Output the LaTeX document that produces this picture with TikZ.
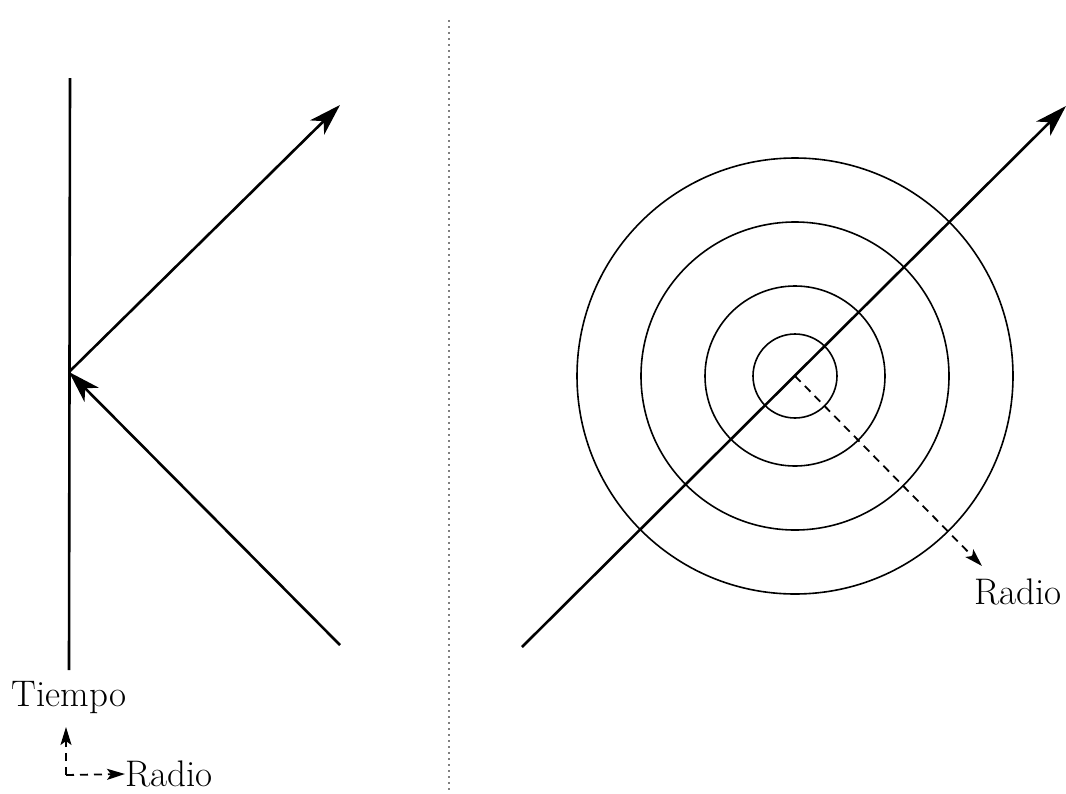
\documentclass[tikz,border=0pt]{standalone}
\usetikzlibrary{arrows.meta}
\begin{document}
\begin{tikzpicture}[x=0.5pt,y=-0.5pt,
  worldline/.style={line width=1.3pt},
  ray/.style={line width=1.3pt,-{Stealth[length=16pt,width=10pt,inset=4.5pt]}},
  ring/.style={line width=0.8pt},
  dashray/.style={line width=0.9pt,dash pattern=on 4pt off 3pt,-{Stealth[length=9pt,width=5.5pt,inset=2pt]}},
  lbl/.style={font=\fontsize{18.5}{21}\selectfont,inner sep=0pt}]
\useasboundingbox (0,0) rectangle (1066,793);
% separator
\draw[line width=0.6pt,gray,dash pattern=on 1pt off 2pt] (449,20) -- (449,793);
% left diagram
\coordinate (top) at (70,78);
\coordinate (bot) at (69,670);
\coordinate (ev) at (69,372);
\coordinate (out) at (340,105);
\coordinate (in) at (340,645);
\draw[worldline] (top) -- (bot);
\draw[ray] (ev) -- (out);
\draw[ray] (in) -- (ev);
\node[lbl] (tiempo) at (69,698) {Tiempo};
\node[lbl,anchor=west] (radio1) at (125,774) {Radio};
\coordinate (corner) at (66,775);
\draw[dashray] (corner) -- (66,727);
\draw[dashray] (corner) -- (radio1.west);
% right diagram
\coordinate (c) at (795,376);
\draw[ring] (c) circle[radius=218];
\draw[ring] (c) circle[radius=154];
\draw[ring] (c) circle[radius=90];
\draw[ring] (c) circle[radius=42];
\coordinate (dstart) at (522,647);
\coordinate (dend) at (1066,106);
\draw[ray] (dstart) -- (dend);
\node[lbl] (radio2) at (1018,592) {Radio};
\draw[dashray] (c) -- (982,566);
\end{tikzpicture}
\end{document}
